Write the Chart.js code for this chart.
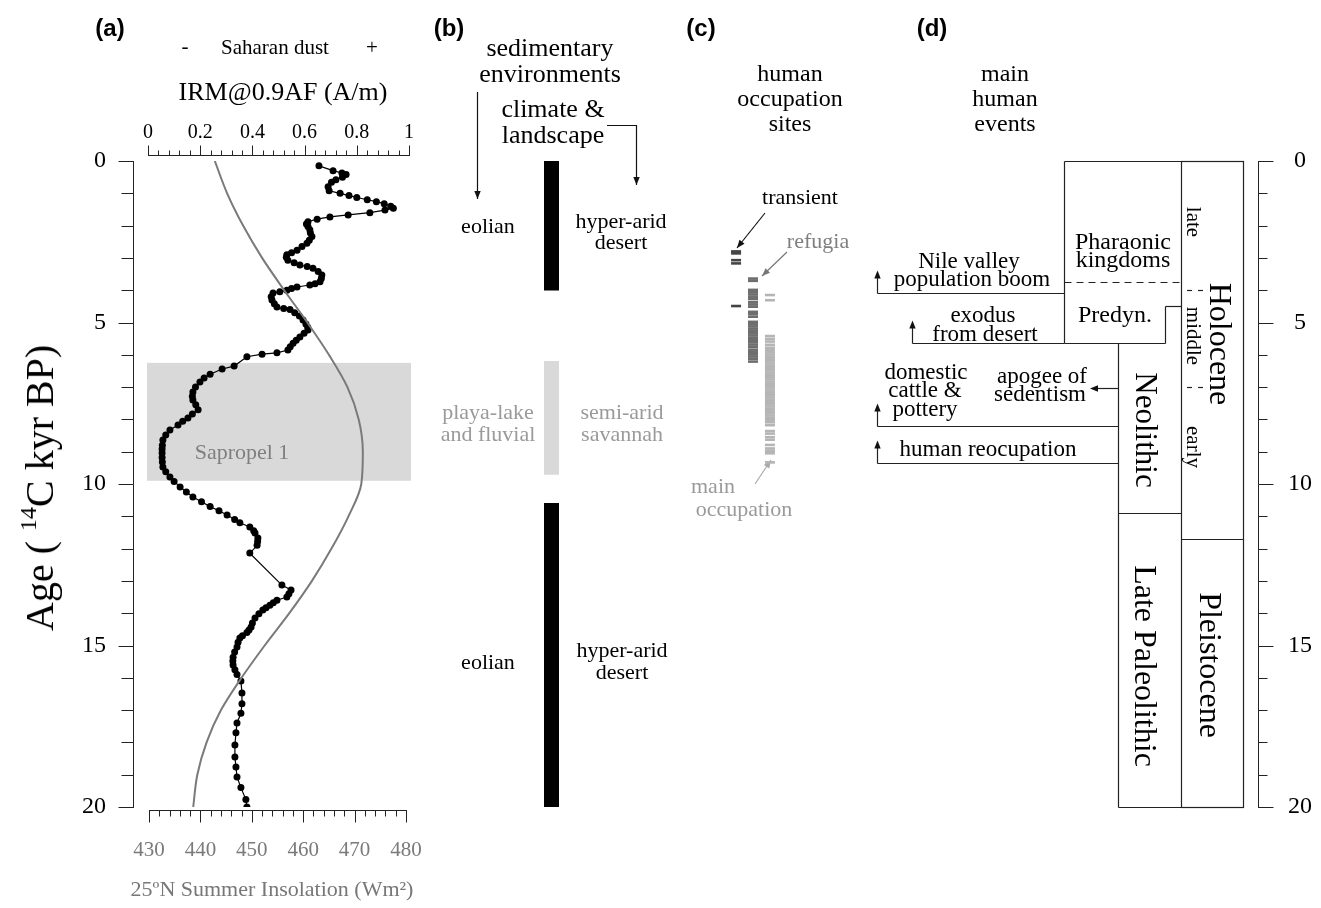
<!DOCTYPE html>
<html>
<head>
<meta charset="utf-8">
<title>Saharan dust, environments and human occupation, 0–20 kyr BP</title>
<script src="https://cdn.jsdelivr.net/npm/chart.js@4.4.0/dist/chart.umd.min.js"></script>
<style>
  html, body { margin:0; padding:0; background:#fff; }
  #page { position:relative; width:1321px; height:908px; overflow:hidden;
          font-family:"Liberation Serif","Times New Roman","DejaVu Serif",serif; color:#000; }
  #page canvas { position:absolute; top:0; }
  .lbl { position:absolute; white-space:nowrap; line-height:1; transform-origin:center center; }
  .panel { font-family:"Liberation Sans",Arial,sans-serif; font-weight:bold; }
  sup { font-size:0.6em; line-height:0; vertical-align:0.7em; }
</style>
</head>
<body>
<div id="page">
  <canvas id="chartA" width="1321" height="908" style="left:0"></canvas>
  <canvas id="chartB" width="15" height="908" style="left:544px"></canvas>
  <canvas id="chartC" width="66" height="908" style="left:720px"></canvas>
</div>
<script>
// ---------- data ----------
// IRM@0.9AF record (A/m) against age (14C kyr BP)
const irmAge = [0.15,0.30,0.37,0.42,0.50,0.58,0.66,0.80,0.92,1.00,1.07,1.13,1.20,1.26,1.32,1.40,1.46,1.52,1.60,1.67,
  1.73,1.80,1.88,1.95,2.03,2.13,2.22,2.34,2.45,2.55,2.65,2.76,2.84,2.90,2.98,3.07,3.15,3.22,3.27,3.32,
  3.42,3.53,3.64,3.74,3.80,3.84,3.90,3.95,4.00,4.05,4.09,4.20,4.30,4.42,4.52,4.57,4.60,4.70,4.80,4.92,
  5.05,5.15,5.23,5.33,5.45,5.55,5.64,5.75,5.85,5.94,5.98,6.06,6.35,6.44,6.60,6.72,6.84,7.00,7.15,7.28,
  7.40,7.55,7.70,7.83,7.96,8.06,8.17,8.33,8.48,8.64,8.80,8.92,9.04,9.18,9.32,9.47,9.62,9.78,9.92,10.09,
  10.25,10.40,10.55,10.70,10.83,10.96,11.10,11.20,11.33,11.45,11.52,11.67,11.78,11.90,12.14,13.13,13.28,13.40,13.50,13.60,
  13.68,13.75,13.83,13.90,14.02,14.15,14.30,14.43,14.52,14.60,14.70,14.77,14.90,15.05,15.20,15.36,15.48,15.60,15.75,15.90,
  16.10,16.47,16.80,17.10,17.40,17.70,18.08,18.45,18.76,19.07,19.40,19.77,20.00];
const irmValue = [0.655,0.709,0.743,0.759,0.745,0.720,0.703,0.690,0.694,0.736,0.770,0.800,0.840,0.875,0.905,0.930,0.940,0.908,0.850,0.767,
  0.697,0.648,0.613,0.607,0.613,0.620,0.622,0.628,0.618,0.609,0.590,0.571,0.550,0.532,0.530,0.536,0.560,0.582,0.610,0.632,
  0.652,0.666,0.664,0.659,0.640,0.620,0.571,0.550,0.532,0.505,0.479,0.472,0.475,0.484,0.494,0.520,0.544,0.562,0.580,0.594,
  0.605,0.612,0.613,0.598,0.582,0.568,0.556,0.545,0.536,0.494,0.437,0.379,0.330,0.284,0.238,0.215,0.199,0.182,0.172,0.170,
  0.172,0.183,0.192,0.170,0.153,0.133,0.115,0.084,0.068,0.057,0.055,0.054,0.054,0.054,0.055,0.057,0.068,0.084,0.100,0.123,
  0.147,0.172,0.205,0.238,0.272,0.303,0.332,0.352,0.390,0.405,0.410,0.421,0.420,0.418,0.390,0.513,0.548,0.540,0.532,0.494,
  0.480,0.467,0.452,0.440,0.425,0.410,0.400,0.395,0.387,0.379,0.362,0.352,0.345,0.341,0.332,0.326,0.325,0.326,0.333,0.341,
  0.356,0.360,0.360,0.356,0.341,0.337,0.333,0.333,0.337,0.341,0.356,0.375,0.379];

// 25ºN summer insolation (W/m²)
const insAge   = [0,1,2,3,4,5,6,7,8,9,10,11,12,13,14,15,16,17,18,19,20];
const insValue = [442.8,445.2,448.3,452.0,456.3,460.8,465.0,468.6,470.8,471.6,471.3,468.8,465.5,461.7,457.3,452.5,448.0,444.0,441.2,439.4,438.6];

// Sapropel 1 interval
const sapropelAges = [6.25, 9.9];

// Axis ticks
const irmTicks = [0, 0.2, 0.4, 0.6, 0.8, 1];
const insTicks = [430, 440, 450, 460, 470, 480];
const ageTicks = [0, 5, 10, 15, 20];

// (b) sedimentary environment intervals: eolian, playa-lake/fluvial, eolian
const sedimentAges = [[0, 4.0], [6.2, 9.7], [10.6, 20]];

// (c) dated human occupation sites
const transientAges = [2.80, 2.86, 3.07, 3.17, 4.49];
const refugiaAges = [3.64, 3.71, 3.99, 4.06, 4.13, 4.20, 4.27, 4.37, 4.44, 4.51, 4.67, 4.74, 4.82,
  4.98, 5.05, 5.12, 5.19, 5.26, 5.33, 5.40, 5.47, 5.54, 5.60, 5.68, 5.75, 5.84, 5.91, 5.98, 6.05, 6.12, 6.21];
const mainOccupationAges = [4.15, 4.31, 5.42, 5.51, 5.59, 5.69, 5.78, 5.85, 5.92, 5.99, 6.06, 6.13, 6.20, 6.27,
  6.34, 6.41, 6.48, 6.55, 6.62, 6.69, 6.76, 6.83, 6.90, 6.97, 7.04, 7.11, 7.18, 7.25, 7.32, 7.39, 7.46, 7.53,
  7.60, 7.67, 7.74, 7.81, 7.88, 7.95, 8.02, 8.09, 8.18, 8.36, 8.44, 8.55, 8.63, 8.79, 8.90, 8.97, 9.05, 9.33];

// (d) cultural periods and epochs (boundaries in kyr BP)
const culturalBounds = [0, 3.75, 5.63, 10.9, 20];   // Pharaonic | Predyn. | Neolithic | Late Paleolithic
const predynStepAge = 4.5;
const epochBounds = [0, 11.7, 20];                   // Holocene | Pleistocene
const holoceneSubBounds = [4.0, 7.0];                // late | middle | early
const eventNames = ['Nile valley population boom', 'exodus from desert', 'apogee of sedentism',
                    'domestic cattle & pottery', 'human reocupation'];
const eventAges = [4.09, 5.63, 7.03, 8.2, 9.35];

// ---------- drawing helpers ----------
const SERIF = '"Liberation Serif","Times New Roman",serif';
function seg(ctx, x1, y1, x2, y2) { ctx.beginPath(); ctx.moveTo(x1, y1); ctx.lineTo(x2, y2); ctx.stroke(); }
function head(ctx, x, y, ang, len = 8, half = 3.2) {
  ctx.save(); ctx.translate(x, y); ctx.rotate(ang);
  ctx.beginPath(); ctx.moveTo(0, 0); ctx.lineTo(-len, -half); ctx.lineTo(-len, half); ctx.closePath(); ctx.fill();
  ctx.restore();
}
function arrow(ctx, pts, color) {
  ctx.save(); ctx.strokeStyle = color; ctx.fillStyle = color; ctx.lineWidth = 1.2;
  ctx.beginPath(); ctx.moveTo(pts[0][0], pts[0][1]);
  for (let i = 1; i < pts.length; i++) ctx.lineTo(pts[i][0], pts[i][1]);
  ctx.stroke();
  const a = pts[pts.length - 2], b = pts[pts.length - 1];
  head(ctx, b[0], b[1], Math.atan2(b[1] - a[1], b[0] - a[0]));
  ctx.restore();
}
const h = v => Math.round(v) + 0.5;

const decor = {
  id: 'decor',
  beforeDatasetsDraw(chart) {
    const { ctx, chartArea: ca, scales: { y } } = chart;
    const y1 = y.getPixelForValue(sapropelAges[0]), y2 = y.getPixelForValue(sapropelAges[1]);
    ctx.save();
    ctx.fillStyle = '#d9d9d9';
    ctx.fillRect(ca.left - 1, y1, ca.right - ca.left + 3, y2 - y1);
    ctx.restore();
  },
  afterDraw(chart) {
    const { ctx, scales: { y, xIrm, xIns } } = chart;
    const Y = a => y.getPixelForValue(a);
    ctx.save();
    ctx.lineWidth = 1;
    ctx.strokeStyle = '#222';
    ctx.fillStyle = '#000';
    ctx.textAlign = 'center';
    ctx.textBaseline = 'middle';

    // IRM axis (top)
    const yTop = h(Y(0) - 6);
    seg(ctx, xIrm.getPixelForValue(0), yTop, xIrm.getPixelForValue(1) + 1, yTop);
    for (let k = 0; k <= 25; k++) {
      const x = h(xIrm.getPixelForValue(k * 0.04));
      seg(ctx, x, yTop, x, yTop - (k % 5 === 0 ? 10 : 5));
    }
    ctx.font = '20px ' + SERIF;
    irmTicks.forEach(v => ctx.fillText(String(v), xIrm.getPixelForValue(v), 133));

    // insolation axis (bottom)
    const yBot = h(Y(20) + 3);
    seg(ctx, xIns.getPixelForValue(430), yBot, xIns.getPixelForValue(480) + 1, yBot);
    for (let v = 430; v <= 480; v += 2) {
      const x = h(xIns.getPixelForValue(v));
      seg(ctx, x, yBot, x, yBot + (v % 10 === 0 ? 12 : 6));
    }
    ctx.fillStyle = '#7a7a7a';
    ctx.font = '21px ' + SERIF;
    insTicks.forEach(v => ctx.fillText(String(v), xIns.getPixelForValue(v), 850));

    // age axis (left of panel a)
    ctx.fillStyle = '#000';
    ctx.font = '24px ' + SERIF;
    const xL = 133.5;
    seg(ctx, xL, Y(0), xL, Y(20) + 1);
    for (let a = 0; a <= 20; a++) {
      const yy = h(Y(a));
      seg(ctx, xL, yy, xL - (a % 5 === 0 ? 15 : 12), yy);
    }
    ctx.textAlign = 'right';
    ageTicks.forEach(a => ctx.fillText(String(a), 106, Y(a)));

    // age axis (right of panel d)
    const xR = 1258.5;
    seg(ctx, xR, Y(0), xR, Y(20) + 1);
    for (let a = 0; a <= 20; a++) {
      const yy = h(Y(a));
      seg(ctx, xR, yy, xR + (a % 5 === 0 ? 15 : 9), yy);
    }
    ctx.textAlign = 'center';
    ageTicks.forEach(a => ctx.fillText(String(a), 1300, Y(a)));

    // panel d: cultural periods and epochs
    const xWide = 1064.5, xNarrow = 1118.5, xStep = 1165.5, xEpoch = 1181.5, xEnd = 1243.5;
    ctx.strokeStyle = '#222';
    ctx.lineWidth = 1.2;
    ctx.strokeRect(xEpoch, h(Y(epochBounds[0])), xEnd - xEpoch, h(Y(epochBounds[2])) - h(Y(epochBounds[0])));
    seg(ctx, xEpoch, h(Y(epochBounds[1])), xEnd, h(Y(epochBounds[1])));
    const yC0 = h(Y(culturalBounds[0])), yC1 = h(Y(culturalBounds[1])), yC2 = h(Y(culturalBounds[2])),
          yC3 = h(Y(culturalBounds[3])), yC4 = h(Y(culturalBounds[4])), yS = h(Y(predynStepAge));
    seg(ctx, xWide, yC0, xEpoch, yC0);
    seg(ctx, xWide, yC0, xWide, yC2);
    seg(ctx, xWide, yC2, xStep, yC2);
    seg(ctx, xStep, yC2, xStep, yS);
    seg(ctx, xStep, yS, xEpoch, yS);
    seg(ctx, xNarrow, yC2, xNarrow, yC4);
    seg(ctx, xNarrow, yC3, xEpoch, yC3);
    seg(ctx, xNarrow, yC4, xEpoch, yC4);
    ctx.setLineDash([7, 5]);
    seg(ctx, xWide, yC1, xEpoch, yC1);
    ctx.setLineDash([]);
    holoceneSubBounds.forEach(a => {
      const yy = h(Y(a));
      seg(ctx, 1187, yy, 1192, yy);
      seg(ctx, 1198, yy, 1203, yy);
    });

    // panel d: events
    ctx.lineWidth = 1.2;
    ctx.fillStyle = '#111';
    const eY = eventAges.map(a => h(Y(a)));
    // Nile valley population boom
    seg(ctx, 877.5, eY[0], xWide, eY[0]); seg(ctx, 877.5, eY[0], 877.5, eY[0] - 16); head(ctx, 877.5, eY[0] - 23, -Math.PI / 2);
    // exodus from desert
    seg(ctx, 912.5, eY[1], xWide, eY[1]); seg(ctx, 912.5, eY[1], 912.5, eY[1] - 16); head(ctx, 912.5, eY[1] - 23, -Math.PI / 2);
    // apogee of sedentism
    seg(ctx, xNarrow, eY[2], 1096, eY[2]); head(ctx, 1090, eY[2], Math.PI);
    // domestic cattle & pottery
    seg(ctx, 877.5, eY[3], xNarrow, eY[3]); seg(ctx, 877.5, eY[3], 877.5, eY[3] - 16); head(ctx, 877.5, eY[3] - 23, -Math.PI / 2);
    // human reocupation
    seg(ctx, 877.5, eY[4], xNarrow, eY[4]); seg(ctx, 877.5, eY[4], 877.5, eY[4] - 16); head(ctx, 877.5, eY[4] - 23, -Math.PI / 2);

    // panel b pointers
    arrow(ctx, [[477.5, 92], [477.5, 199]], '#111');
    arrow(ctx, [[607, 125.5], [636.5, 125.5], [636.5, 185]], '#111');
    // panel c pointers
    arrow(ctx, [[765, 213], [737, 248]], '#111');
    arrow(ctx, [[787, 252], [762, 276]], '#777');
    arrow(ctx, [[755, 484], [771, 460]], '#aaa');

    ctx.restore();
  }
};

// ---------- panel (a): IRM and insolation against age ----------
new Chart(document.getElementById('chartA'), {
  type: 'line',
  data: {
    datasets: [
      {
        label: '25ºN Summer Insolation',
        data: insAge.map((a, i) => ({ x: insValue[i], y: a })),
        xAxisID: 'xIns', yAxisID: 'y',
        borderColor: '#7a7a7a', borderWidth: 2,
        pointRadius: 0, cubicInterpolationMode: 'monotone'
      },
      {
        label: 'IRM@0.9AF',
        data: irmAge.map((a, i) => ({ x: irmValue[i], y: a })),
        xAxisID: 'xIrm', yAxisID: 'y',
        borderColor: '#000', borderWidth: 1.2,
        pointRadius: 3.5, pointBackgroundColor: '#000', pointBorderColor: '#000', pointBorderWidth: 0,
        tension: 0
      }
    ]
  },
  options: {
    responsive: false, animation: false, events: [],
    indexAxis: 'y',
    layout: { padding: { left: 148, right: 1321 - 409, top: 161, bottom: 908 - 807 } },
    plugins: { legend: { display: false }, tooltip: { enabled: false } },
    scales: {
      xIrm: { type: 'linear', axis: 'x', min: 0, max: 1, display: false },
      xIns: { type: 'linear', axis: 'x', min: 429.805, max: 480.58, display: false },
      y: { type: 'linear', axis: 'y', min: 0, max: 20, reverse: true, display: false }
    }
  },
  plugins: [decor]
});

// ---------- panel (b): sedimentary environments ----------
const sedimentColors = ['#000', '#d9d9d9', '#000'];
new Chart(document.getElementById('chartB'), {
  type: 'bar',
  data: {
    labels: ['environment'],
    datasets: sedimentAges.map((r, i) => ({
      label: 'interval ' + (i + 1), data: [r], backgroundColor: sedimentColors[i],
      borderWidth: 0, grouped: false, barPercentage: 1, categoryPercentage: 1
    }))
  },
  options: {
    responsive: false, animation: false, events: [],
    layout: { padding: { left: 0, right: 0, top: 161, bottom: 101 } },
    plugins: { legend: { display: false }, tooltip: { enabled: false } },
    scales: {
      x: { display: false },
      y: { min: 0, max: 20, reverse: true, display: false }
    }
  }
});

// ---------- panel (c): human occupation sites ----------
const siteColumns = ['transient', 'refugia', 'main occupation'];
const siteSeries = [transientAges, refugiaAges, mainOccupationAges];
const siteColors = ['#444444', '#6e6e6e', '#b5b5b5'];
new Chart(document.getElementById('chartC'), {
  type: 'line',
  data: {
    labels: siteColumns,
    datasets: siteSeries.map((ages, i) => ({
      label: siteColumns[i],
      data: ages.map(a => ({ x: siteColumns[i], y: a })),
      showLine: false,
      pointStyle: 'line', pointRadius: 5, pointBorderWidth: 2.6,
      pointBorderColor: siteColors[i], pointBackgroundColor: siteColors[i]
    }))
  },
  options: {
    responsive: false, animation: false, events: [],
    layout: { padding: { left: 0, right: 0, top: 161, bottom: 101 } },
    plugins: { legend: { display: false }, tooltip: { enabled: false } },
    scales: {
      x: { type: 'category', offset: true, display: false },
      y: { min: 0, max: 20, reverse: true, display: false }
    }
  }
});

// ---------- text ----------
const page = document.getElementById('page');
function addLabel(html, x, y, size, color, rot, cls) {
  const d = document.createElement('div');
  d.className = 'lbl' + (cls ? ' ' + cls : '');
  d.innerHTML = html;
  d.style.left = x + 'px';
  d.style.top = y + 'px';
  d.style.fontSize = size + 'px';
  if (color) d.style.color = color;
  d.style.transform = 'translate(-50%,-50%)' + (rot ? ' rotate(' + rot + 'deg)' : '');
  page.appendChild(d);
}
const GREY = '#7f7f7f', LIGHT = '#9a9a9a';
// panel letters
addLabel('(a)', 110, 28, 24, null, 0, 'panel');
addLabel('(b)', 449, 28, 24, null, 0, 'panel');
addLabel('(c)', 701, 28, 24, null, 0, 'panel');
addLabel('(d)', 932, 28, 24, null, 0, 'panel');
// panel a
addLabel('-', 185, 46, 21);
addLabel('Saharan dust', 275, 47, 21);
addLabel('+', 372, 47, 21);
addLabel('IRM@0.9AF (A/m)', 283, 92, 26);
addLabel('Sapropel 1', 242, 452, 22, GREY);
addLabel('25ºN Summer Insolation (Wm²)', 272, 889, 22, '#777');
addLabel('Age ( <sup>14</sup>C kyr BP)', 40, 488, 40, null, -90);
// panel b
addLabel('sedimentary', 550, 48, 26);
addLabel('environments', 550, 74, 26);
addLabel('climate &amp;', 553, 109, 26);
addLabel('landscape', 553, 135, 26);
addLabel('eolian', 488, 226, 22);
addLabel('hyper-arid', 621, 221, 22);
addLabel('desert', 621, 242, 22);
addLabel('playa-lake', 488, 412, 22, LIGHT);
addLabel('and fluvial', 488, 434, 22, LIGHT);
addLabel('semi-arid', 622, 412, 22, LIGHT);
addLabel('savannah', 622, 434, 22, LIGHT);
addLabel('eolian', 488, 662, 22);
addLabel('hyper-arid', 622, 650, 22);
addLabel('desert', 622, 672, 22);
// panel c
addLabel('human', 790, 73, 24);
addLabel('occupation', 790, 98, 24);
addLabel('sites', 790, 123, 24);
addLabel('transient', 800, 197, 22);
addLabel('refugia', 818, 241, 22, GREY);
addLabel('main', 713, 486, 22, LIGHT);
addLabel('occupation', 744, 509, 22, LIGHT);
// panel d
addLabel('main', 1005, 73, 24);
addLabel('human', 1005, 98, 24);
addLabel('events', 1005, 123, 24);
addLabel('Nile valley', 969, 260, 23);
addLabel('population boom', 972, 278, 23);
addLabel('Pharaonic', 1123, 241, 24);
addLabel('kingdoms', 1123, 259, 24);
addLabel('exodus', 983, 314, 23);
addLabel('from desert', 985, 333, 23);
addLabel('Predyn.', 1115, 314, 24);
addLabel('domestic', 926, 371, 23);
addLabel('cattle &amp;', 925, 389, 23);
addLabel('pottery', 925, 408, 23);
addLabel('apogee of', 1042, 375, 23);
addLabel('sedentism', 1040, 393, 23);
addLabel('human reocupation', 988, 448, 23);
addLabel('late', 1193, 222, 21, null, 90);
addLabel('middle', 1193, 336, 21, null, 90);
addLabel('early', 1193, 447, 21, null, 90);
addLabel('Holocene', 1221, 344, 32, null, 90);
addLabel('Neolithic', 1146, 430, 31, null, 90);
addLabel('Late Paleolithic', 1146, 666, 32, null, 90);
addLabel('Pleistocene', 1211, 665, 32, null, 90);
</script>
</body>
</html>
